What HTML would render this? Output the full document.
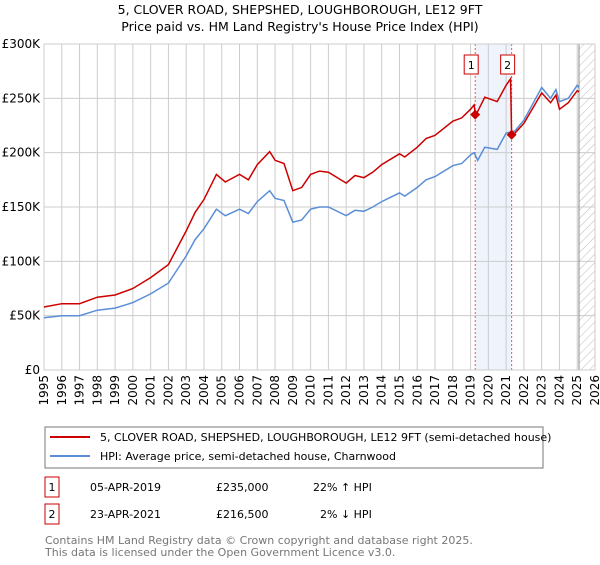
<!DOCTYPE html>
<html><head><meta charset="utf-8"><style>
body{margin:0;background:#fff;font-family:"Liberation Sans","DejaVu Sans",sans-serif}
svg text{font-family:"DejaVu Sans","Liberation Sans",sans-serif}
</style></head><body>
<svg id="c" width="600" height="560" xmlns="http://www.w3.org/2000/svg">
<text x="300" y="14" text-anchor="middle" font-size="12.5">5, CLOVER ROAD, SHEPSHED, LOUGHBOROUGH, LE12 9FT</text>
<text x="300" y="31" text-anchor="middle" font-size="12.5">Price paid vs. HM Land Registry's House Price Index (HPI)</text>
<defs><pattern id="h" width="6" height="6" patternUnits="userSpaceOnUse" patternTransform="rotate(45)"><line x1="0" y1="0" x2="0" y2="6" stroke="#bbb" stroke-width="1"/></pattern></defs>
<g id="grid"></g><g id="marks"></g>
<rect x="45" y="427" width="498" height="41" fill="none" stroke="#777"/>
<line x1="50" y1="437" x2="90" y2="437" stroke="#cc0000" stroke-width="2"/>
<text x="100" y="441" font-size="11">5, CLOVER ROAD, SHEPSHED, LOUGHBOROUGH, LE12 9FT (semi-detached house)</text>
<line x1="50" y1="456" x2="90" y2="456" stroke="#5b8ed6" stroke-width="2"/>
<text x="100" y="460" font-size="11">HPI: Average price, semi-detached house, Charnwood</text>
<g font-size="11">
<rect x="45" y="477" width="14" height="20" fill="none" stroke="#cc0000"/>
<text x="52" y="491" text-anchor="middle">1</text>
<text x="90" y="491">05-APR-2019</text>
<text x="216" y="491">£235,000</text>
<text x="313" y="491">22% ↑ HPI</text>
<rect x="45" y="504" width="14" height="20" fill="none" stroke="#cc0000"/>
<text x="52" y="518" text-anchor="middle">2</text>
<text x="90" y="518">23-APR-2021</text>
<text x="216" y="518">£216,500</text>
<text x="320" y="518">2% ↓ HPI</text>
</g>
<text x="45" y="544" font-size="11" fill="#777">Contains HM Land Registry data © Crown copyright and database right 2025.</text>
<text x="45" y="556" font-size="11" fill="#777">This data is licensed under the Open Government Licence v3.0.</text>
</svg>
<script>
const yTicks=[0,50,100,150,200,250,300];
const yTickLabels=["£0","£50K","£100K","£150K","£200K","£250K","£300K"];
const years=[1995,1996,1997,1998,1999,2000,2001,2002,2003,2004,2005,2006,2007,2008,2009,2010,2011,2012,2013,2014,2015,2016,2017,2018,2019,2020,2021,2022,2023,2024,2025,2026];
const hpiT=[1995,1996,1997,1998,1999,2000,2001,2002,2003,2003.5,2004,2004.7,2005.2,2006,2006.5,2007,2007.7,2008,2008.5,2009,2009.5,2010,2010.5,2011,2012,2012.5,2013,2013.5,2014,2015,2015.3,2016,2016.5,2017,2018,2018.5,2019,2019.2,2019.4,2019.8,2020.5,2021,2021.5,2022,2022.5,2023,2023.5,2023.8,2024,2024.5,2025,2025.1];
const hpiV=[48,50,50,55,57,62,70,80,105,120,130,148,142,148,144,155,165,158,156,136,138,148,150,150,142,147,146,150,155,163,160,168,175,178,188,190,198,200,193,205,203,218,220,230,245,260,250,258,247,250,262,260];
const propT=[1995,1996,1997,1998,1999,2000,2001,2002,2003,2003.5,2004,2004.7,2005.2,2006,2006.5,2007,2007.7,2008,2008.5,2009,2009.5,2010,2010.5,2011,2012,2012.5,2013,2013.5,2014,2015,2015.3,2016,2016.5,2017,2018,2018.5,2019,2019.2,2019.27,2019.4,2019.8,2020.5,2021,2021.25,2021.31,2021.5,2022,2022.5,2023,2023.5,2023.8,2024,2024.5,2025,2025.1];
const propV=[58,61,61,67,69,75,85,97,128,145,157,180,173,180,175,189,201,193,190,165,168,180,183,182,172,179,177,182,189,199,196,205,213,216,229,232,240,244,235,238,251,247,262,268,216.5,218,227,241,255,246,253,240,246,257,256];
const saleT=[2019.26,2021.31];
const saleV=[235,216.5];
const X0=44,X1=595,Y0=370,Y1=44;
const xs=t=>X0+(t-1995)/(2026-1995)*(X1-X0);
const ys=v=>Y0-v/300*(Y0-Y1);
const NS="http://www.w3.org/2000/svg";
function mk(p,tag,a){const e=document.createElementNS(NS,tag);for(const k in a)e.setAttribute(k,a[k]);p.appendChild(e);return e;}
const g=document.getElementById('grid'),m=document.getElementById('marks');
let e=mk(g,'rect',{x:xs(saleT[0]),y:Y1,width:xs(saleT[1])-xs(saleT[0]),height:Y0-Y1,fill:'#eef3fc'});


e=mk(g,'rect',{x:xs(2025.1),y:Y1,width:X1-xs(2025.1),height:Y0-Y1,fill:'url(#h)'});


yTicks.forEach((v,i)=>{
 e=mk(g,'line',{x1:X0,x2:X1,y1:ys(v),y2:ys(v),stroke:'#ccc'});
 
 
 e=mk(g,'text',{x:X0-4,y:ys(v)+4,'text-anchor':'end','font-size':12});
 e.textContent=yTickLabels[i];
 
 
});
years.forEach(y=>{
 e=mk(g,'line',{x1:xs(y),x2:xs(y),y1:Y1,y2:Y0,stroke:'#ccc'});
 
 
 e=mk(g,'text',{x:0,y:0,'text-anchor':'end','font-size':12,transform:`translate(${xs(y)+4},${Y0+5}) rotate(-90)`});
 e.textContent=y;
 
 
});
e=mk(g,'line',{x1:xs(2025.1),x2:xs(2025.1),y1:Y1,y2:Y0,stroke:'#888'});


saleT.forEach((t,i)=>{
 e=mk(g,'line',{x1:xs(t),x2:xs(t),y1:Y1,y2:Y0,stroke:'#e55','stroke-dasharray':'2,2'});
 
 
 e=mk(g,'rect',{x:xs(t)-11,y:55,width:14,height:19,fill:'#fff',stroke:'#cc0000'});
 
 
 e=mk(g,'text',{x:xs(t)-4,y:69,'text-anchor':'middle','font-size':11});
 e.textContent=i+1;
 
 
});
mk(g,'rect',{x:X0,y:Y1,width:X1-X0,height:Y0-Y1,fill:'none',stroke:'#ccc'});
const pts=(T,V)=>T.map((t,i)=>xs(t).toFixed(1)+','+ys(V[i]).toFixed(1)).join(' ');
e=mk(m,'polyline',{points:pts(hpiT,hpiV),fill:'none',stroke:'#5b8ed6','stroke-width':1.5});


e=mk(m,'polyline',{points:pts(propT,propV),fill:'none',stroke:'#cc0000','stroke-width':1.5});


saleT.forEach((t,i)=>{
 const x=xs(t),y=ys(saleV[i]);
 e=mk(m,'polygon',{points:`${x},${y-5} ${x+5},${y} ${x},${y+5} ${x-5},${y}`,fill:'#cc0000'});
 
 
});
</script>
</body></html>
